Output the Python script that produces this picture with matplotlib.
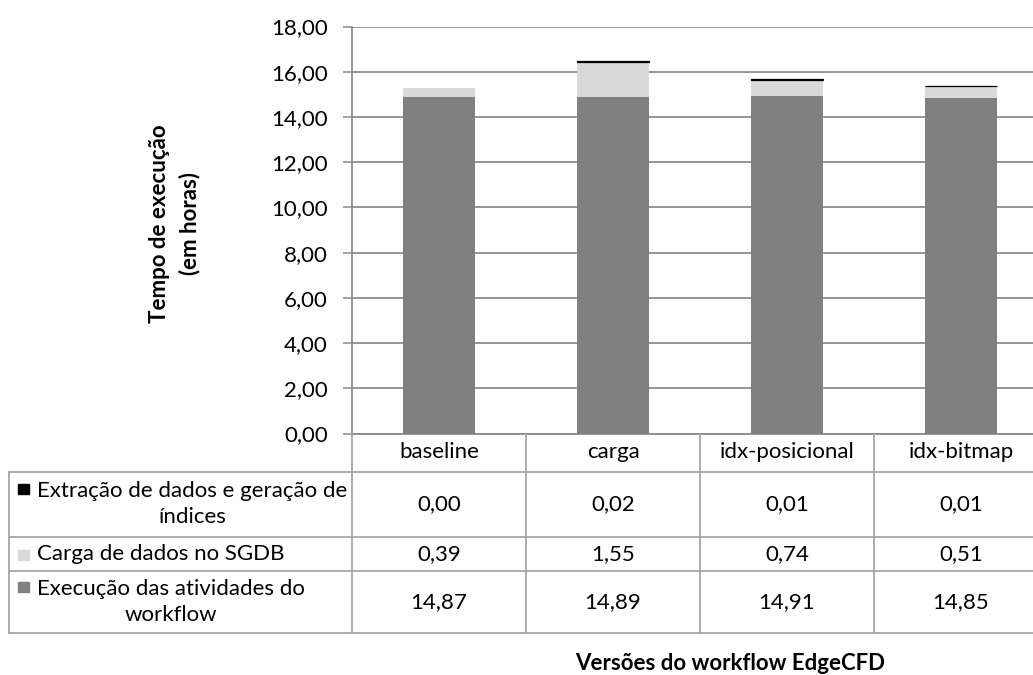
import numpy as np
import matplotlib
matplotlib.use("Agg")
import matplotlib.pyplot as plt
from matplotlib.patches import Rectangle

plt.rcParams['font.family'] = ['Lato', 'DejaVu Sans']

## dados do grafico
versoes = ["baseline", "carga", "idx-posicional", "idx-bitmap"]
extracao = [0.00, 0.02, 0.01, 0.01]
carga_sgdb = [0.39, 1.55, 0.74, 0.51]
execucao = [14.87, 14.89, 14.91, 14.85]

series_nomes = ["Extração de dados e geração de\níndices",
                "Carga de dados no SGDB",
                "Execução das atividades do\nworkflow"]
series_cores = ["#000000", "#d9d9d9", "#808080"]
series_valores = [extracao, carga_sgdb, execucao]

W, H = 1033, 675
fig = plt.figure(figsize=(W / 100, H / 100), dpi=100)
fig.patch.set_facecolor("white")

## posicoes em pixels
ax_left, col_w = 352, 174
ax_top, ax_bottom = 26.5, 433.5
tab_bottom = 633
fs = 16
linha_cor = "#a6a6a6"

ax = fig.add_axes([ax_left / W, 1 - ax_bottom / H, 4 * col_w / W, (ax_bottom - ax_top) / H])
x = np.arange(len(versoes))
largura = 0.41

ax.bar(x, execucao, largura, color=series_cores[2], zorder=3)
ax.bar(x, carga_sgdb, largura, bottom=execucao, color=series_cores[1], zorder=3)
base2 = np.array(execucao) + np.array(carga_sgdb)
ax.bar(x, extracao, largura, bottom=base2, color=series_cores[0],
       edgecolor="black", linewidth=[0.9 if v > 0 else 0 for v in extracao], zorder=3)

ax.set_xlim(-0.5, 3.5)
ax.set_ylim(0, 18)
ax.set_yticks(np.arange(0, 18.1, 2))
ax.set_yticklabels([f"{v:.2f}".replace(".", ",") for v in np.arange(0, 18.1, 2)], fontsize=fs)
ax.set_xticks([])
ax.yaxis.grid(True, color="#8c8c8c", linewidth=1.3, zorder=0)
ax.tick_params(axis="y", length=6.5, width=1.1, color="#8c8c8c", pad=11, labelcolor="#000000")
for s in ["top", "right"]:
    ax.spines[s].set_visible(False)
ax.spines["left"].set_color("#8c8c8c")
ax.spines["left"].set_linewidth(1.3)
ax.spines["bottom"].set_color("#8c8c8c")
ax.spines["bottom"].set_linewidth(1.3)

ax.set_ylabel("Tempo de execução\n(em horas)", fontsize=fs, fontweight="bold",
              labelpad=0, linespacing=1.45)
ax.yaxis.set_label_coords(-(ax_left - 200) / (4 * col_w), 0.515)

## tabela de dados (coordenadas y em pixels a partir do eixo)
tab = fig.add_axes([ax_left / W, 1 - tab_bottom / H, 4 * col_w / W, (tab_bottom - ax_bottom) / H])
tab.set_xlim(-0.5, 3.5)
tab.set_ylim(tab_bottom - ax_bottom, 0)
tab.axis("off")

x_esq = -0.5 - (ax_left - 9) / col_w
linhas_y = [38.5, 103, 137.5, 199.5]
for yy in linhas_y:
    tab.plot([x_esq, 3.5], [yy, yy], color=linha_cor, lw=1.3, clip_on=False)
tab.plot([x_esq, x_esq], [linhas_y[0], linhas_y[-1]], color=linha_cor, lw=1.3, clip_on=False)
for xx in np.arange(-0.5, 3.6, 1):
    tab.plot([xx, xx], [0, linhas_y[-1]], color=linha_cor, lw=1.3, clip_on=False)

for i, nome in enumerate(versoes):
    tab.text(i, 18, nome, ha="center", va="center", fontsize=fs)

centros = [(linhas_y[k] + linhas_y[k + 1]) / 2 for k in range(3)]
px = 1 / col_w
for k in range(3):
    cy = centros[k]
    for i in range(len(versoes)):
        tab.text(i, cy, f"{series_valores[k][i]:.2f}".replace(".", ","),
                 ha="center", va="center", fontsize=fs)
    linha1 = cy - 15 if "\n" in series_nomes[k] else cy + 1
    tab.add_patch(Rectangle((x_esq + 9 * px, linha1 - 5), 11 * px, 10,
                            color=series_cores[k], clip_on=False))
    tab.text(x_esq + 28 * px, cy, series_nomes[k], ha="left", va="center",
             multialignment="center", fontsize=fs, linespacing=1.35)

fig.text(730 / W, 1 - 663 / H, "Versões do workflow EdgeCFD", ha="center", va="center",
         fontsize=fs, fontweight="bold")

fig.savefig("out.png", dpi=100)
